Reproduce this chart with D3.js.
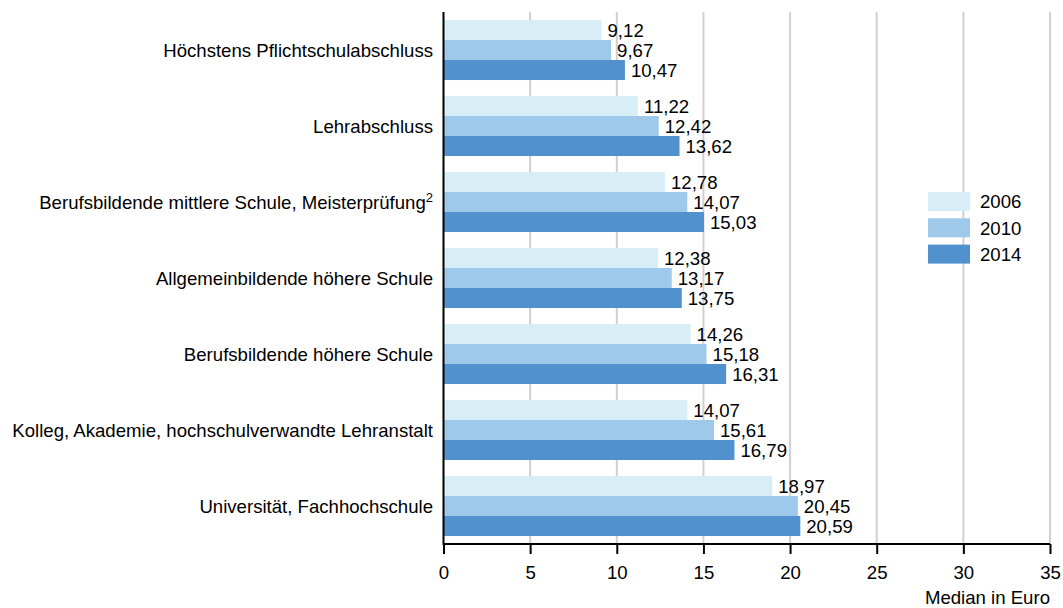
<!DOCTYPE html>
<html lang="de">
<head>
  <meta charset="UTF-8">
  <title>Median in Euro nach Bildung</title>
  <script src="https://d3js.org/d3.v7.min.js"></script>
  <style>
    body { margin: 0; background: #fff; }
    svg { display: block; font-family: "Liberation Sans", Arial, sans-serif; }
  </style>
</head>
<body>
  <div id="chart"></div>
  <script>
    const categories = [
      "Höchstens Pflichtschulabschluss",
      "Lehrabschluss",
      "Berufsbildende mittlere Schule, Meisterprüfung",
      "Allgemeinbildende höhere Schule",
      "Berufsbildende höhere Schule",
      "Kolleg, Akademie, hochschulverwandte Lehranstalt",
      "Universität, Fachhochschule"
    ];
    const years = ["2006", "2010", "2014"];
    const values2006 = [9.12, 11.22, 12.78, 12.38, 14.26, 14.07, 18.97];
    const values2010 = [9.67, 12.42, 14.07, 13.17, 15.18, 15.61, 20.45];
    const values2014 = [10.47, 13.62, 15.03, 13.75, 16.31, 16.79, 20.59];
    const xTicks = [0, 5, 10, 15, 20, 25, 30, 35];

    const width = 1063, height = 608;
    const fontSize = 18.6;
    const colors = { "2006": "#d8eef7", "2010": "#9fc9eb", "2014": "#5191cd" };
    const series = { "2006": values2006, "2010": values2010, "2014": values2014 };

    const x = d3.scaleLinear().domain([0, 35]).range([443.5, 1050]);
    const y = d3.scaleBand().domain(categories).range([12, 544])
        .paddingInner(0.21).paddingOuter(0.105);
    const ySub = d3.scaleBand().domain(years).range([0, y.bandwidth()]);

    const fmt = v => v.toFixed(2).replace(".", ",");

    const svg = d3.select("#chart").append("svg")
        .attr("width", width)
        .attr("height", height);

    // gridlines
    svg.append("g")
        .selectAll("line")
        .data(xTicks.slice(1))
        .join("line")
        .attr("x1", d => x(d)).attr("x2", d => x(d))
        .attr("y1", 12).attr("y2", 544)
        .attr("stroke", "#d0d0d0")
        .attr("stroke-width", 2);

    // bars
    const groups = svg.append("g")
        .selectAll("g")
        .data(categories)
        .join("g")
        .attr("transform", d => `translate(0,${y(d)})`);

    years.forEach(yr => {
      groups.append("rect")
          .attr("x", x(0))
          .attr("y", ySub(yr))
          .attr("width", (d, i) => x(series[yr][i]) - x(0))
          .attr("height", ySub.bandwidth())
          .attr("fill", colors[yr]);

      groups.append("text")
          .attr("x", (d, i) => x(series[yr][i]) + 6)
          .attr("y", ySub(yr) + ySub.bandwidth() / 2)
          .attr("dy", "0.36em")
          .attr("font-size", fontSize)
          .attr("fill", "#000")
          .text((d, i) => fmt(series[yr][i]));
    });

    // category labels
    const catLabels = svg.append("g")
        .selectAll("text")
        .data(categories)
        .join("text")
        .attr("x", 433)
        .attr("y", d => y(d) + y.bandwidth() / 2)
        .attr("dy", "0.36em")
        .attr("text-anchor", "end")
        .attr("font-size", fontSize)
        .attr("fill", "#000");
    catLabels.append("tspan").text(d => d);
    // footnote marker
    catLabels.filter((d, i) => i === 2)
        .append("tspan")
        .attr("font-size", 13)
        .attr("baseline-shift", "super")
        .text("2");

    // y axis line
    svg.append("line")
        .attr("x1", x(0)).attr("x2", x(0))
        .attr("y1", 12).attr("y2", 545)
        .attr("stroke", "#000")
        .attr("stroke-width", 2);

    // x axis
    const xAxis = svg.append("g")
        .attr("transform", "translate(0,544)")
        .call(d3.axisBottom(x).tickValues(xTicks).tickSize(10).tickPadding(12).tickFormat(d3.format("d")));
    xAxis.select(".domain").attr("stroke", "#000").attr("stroke-width", 2)
        .attr("d", `M${x(0)},0H${x(35)}`);
    xAxis.selectAll(".tick line").attr("stroke", "#000").attr("stroke-width", 2);
    xAxis.selectAll(".tick text")
        .attr("font-size", fontSize)
        .attr("font-family", "Liberation Sans, Arial, sans-serif")
        .attr("fill", "#000");

    svg.append("text")
        .attr("x", 1050)
        .attr("y", 604)
        .attr("text-anchor", "end")
        .attr("font-size", fontSize)
        .attr("fill", "#000")
        .text("Median in Euro");

    // legend
    const legend = svg.append("g")
        .selectAll("g")
        .data(years)
        .join("g")
        .attr("transform", (d, i) => `translate(928,${192 + i * 26.3})`);
    legend.append("rect")
        .attr("width", 42)
        .attr("height", 19)
        .attr("fill", d => colors[d]);
    legend.append("text")
        .attr("x", 52)
        .attr("y", 9.5)
        .attr("dy", "0.36em")
        .attr("font-size", fontSize)
        .attr("fill", "#000")
        .text(d => d);
  </script>
</body>
</html>
